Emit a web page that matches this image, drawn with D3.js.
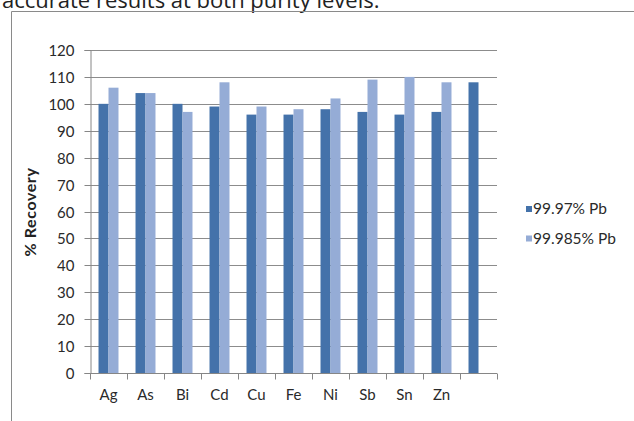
<!DOCTYPE html>
<html><head><meta charset="utf-8">
<script src="https://cdn.jsdelivr.net/npm/d3@7"></script>
<style>
body{margin:0;background:#fff;}
svg{display:block;}
</style></head>
<body>
<script>
const categories = ["Ag","As","Bi","Cd","Cu","Fe","Ni","Sb","Sn","Zn",""];
const seriesNames = ["99.97% Pb","99.985% Pb"];
const series1 = [100,104,100,99,96,96,98,97,96,97,108];
const series2 = [106,104,97,108,99,98,102,109,110,108,null];
const yTicks = [0,10,20,30,40,50,60,70,80,90,100,110,120];
const colors = ["#4472aa","#95acd6"];

const W = 634, H = 421;
const svg = d3.select("body").append("svg").attr("width",W).attr("height",H);

// heading text (clipped at top as in the source)
svg.append("text").attr("x",2).attr("y",8)
  .attr("font-family","Open Sans").attr("font-size",22).attr("fill","#222")
  .text("accurate results at both purity levels.");

// chart frame
svg.append("path").attr("d",`M11.5,${H} V11.5 H${W}`)
  .attr("fill","none").attr("stroke","#8a8a8a").attr("stroke-width",1);

const x = d3.scaleBand().domain(categories).range([90,497]).paddingInner(0.46).paddingOuter(0.23);
const xs = d3.scaleBand().domain([0,1]).range([0,x.bandwidth()]);
const y = d3.scaleLinear().domain([0,120]).range([373,50]);

// gridlines
svg.append("g").selectAll("line").data(yTicks).join("line")
  .attr("x1",90).attr("x2",497)
  .attr("y1",d=>Math.round(y(d))+0.5).attr("y2",d=>Math.round(y(d))+0.5)
  .attr("stroke","#8c8c8c").attr("stroke-width",1);

// bars
const data = categories.map((c,i)=>({c, v:[series1[i],series2[i]]}));
const g = svg.append("g");
data.forEach(d=>{
  d.v.forEach((v,j)=>{
    if(v==null) return;
    g.append("rect")
      .attr("x",x(d.c)+xs(j)).attr("width",xs.bandwidth())
      .attr("y",y(v)).attr("height",y(0)-y(v))
      .attr("fill",colors[j]);
  });
});

// y axis
const yAxis = d3.axisLeft(y).tickValues(yTicks).tickSize(6).tickPadding(10);
const ya = svg.append("g").attr("transform","translate(90.5,0)").call(yAxis);
ya.select(".domain").attr("stroke","#868686");
ya.selectAll(".tick line").attr("stroke","#868686");
ya.selectAll(".tick").attr("transform",d=>`translate(0,${Math.round(y(d))+0.5})`);
ya.selectAll("text").attr("font-family","Lato").attr("font-size",15).attr("fill","#2a2a2a").attr("dy","0.35em");

// x axis
const xa = svg.append("g").attr("transform",`translate(0,${Math.round(y(0))+0.5})`);
xa.append("line").attr("x1",90).attr("x2",497).attr("stroke","#868686");
const bounds = d3.range(categories.length+1).map(i=>x.range()[0]+i*x.step());
xa.selectAll(".bt").data(bounds).join("line").attr("class","bt")
  .attr("x1",d=>Math.round(d)+0.5).attr("x2",d=>Math.round(d)+0.5)
  .attr("y1",0).attr("y2",6).attr("stroke","#868686");
xa.selectAll(".xl").data(categories).join("text").attr("class","xl")
  .attr("x",d=>x(d)+x.bandwidth()/2).attr("y",26)
  .attr("text-anchor","middle").attr("font-family","Lato").attr("font-size",15).attr("fill","#2a2a2a")
  .text(d=>d);

// y title
svg.append("text").attr("transform","translate(36,212) rotate(-90)")
  .attr("text-anchor","middle").attr("font-family","Lato").attr("font-weight","bold")
  .attr("font-size",16).attr("letter-spacing",0.6).attr("fill","#222").text("% Recovery");

// legend
const lg = svg.append("g");
seriesNames.forEach((n,i)=>{
  const yy = 209 + i*29.5;
  lg.append("rect").attr("x",526).attr("y",yy-3).attr("width",6).attr("height",6).attr("fill",colors[i]);
  lg.append("text").attr("x",533).attr("y",yy).attr("dy","0.35em")
    .attr("font-family","Lato").attr("font-size",15.5).attr("fill","#2a2a2a").text(n);
});
</script>
</body></html>
